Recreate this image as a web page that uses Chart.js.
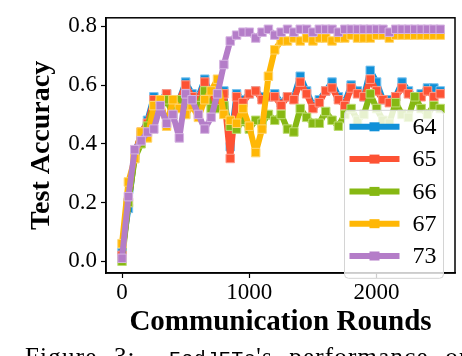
<!DOCTYPE html>
<html>
<head>
<meta charset="utf-8">
<script src="https://cdn.jsdelivr.net/npm/chart.js@4"></script>
<style>
body{margin:0;background:#fff;}
#wrap{position:relative;width:462px;height:356px;overflow:hidden;}
#grafico{position:absolute;left:0;top:0;}
#caption{position:absolute;left:25px;top:343px;font-family:"Liberation Serif",serif;font-size:25px;white-space:nowrap;color:#000;word-spacing:9px;letter-spacing:1.2px;}
#caption tt{font-family:"Liberation Mono",monospace;font-size:20px;letter-spacing:0.5px;}
</style>
</head>
<body>
<div id="wrap">
<canvas id="grafico" width="462" height="356"></canvas>
<div id="caption">Figure 3:&nbsp; <tt>FedJETs</tt>'s performance on</div>
</div>
<script>
// rondas de comunicacion
const rondas = [0,50,100,150,200,250,300,350,400,450,500,550,600,650,700,750,800,850,900,950,
  1000,1050,1100,1150,1200,1250,1300,1350,1400,1450,1500,1550,1600,1650,1700,1750,1800,1850,1900,1950,
  2000,2050,2100,2150,2200,2250,2300,2350,2400,2450,2500];

const acc64 = [0.03,0.18,0.37,0.43,0.48,0.56,0.55,0.57,0.53,0.55,0.61,0.57,0.56,0.62,0.56,0.55,0.58,0.39,0.57,0.55,
  0.57,0.58,0.56,0.56,0.57,0.54,0.56,0.56,0.63,0.58,0.53,0.55,0.58,0.61,0.56,0.54,0.60,0.58,0.56,0.65,
  0.61,0.55,0.55,0.56,0.61,0.58,0.56,0.57,0.59,0.59,0.58];
const acc65 = [0.02,0.20,0.36,0.44,0.47,0.55,0.54,0.57,0.52,0.55,0.60,0.56,0.55,0.61,0.55,0.54,0.57,0.35,0.56,0.54,
  0.57,0.58,0.55,0.56,0.56,0.53,0.56,0.55,0.61,0.57,0.52,0.54,0.58,0.59,0.55,0.53,0.59,0.57,0.56,0.62,
  0.58,0.55,0.54,0.56,0.59,0.57,0.55,0.56,0.58,0.56,0.57];
const acc66 = [0.00,0.20,0.35,0.40,0.46,0.53,0.52,0.55,0.50,0.55,0.50,0.55,0.53,0.58,0.52,0.52,0.53,0.46,0.45,0.48,
  0.45,0.48,0.47,0.50,0.48,0.50,0.45,0.44,0.52,0.49,0.47,0.47,0.51,0.48,0.46,0.50,0.52,0.48,0.50,0.57,
  0.52,0.48,0.47,0.54,0.50,0.49,0.56,0.52,0.50,0.53,0.52];
const acc67 = [0.06,0.27,0.35,0.44,0.42,0.53,0.55,0.46,0.55,0.52,0.50,0.53,0.49,0.55,0.58,0.62,0.50,0.48,0.47,0.52,
  0.46,0.37,0.45,0.63,0.72,0.75,0.75,0.76,0.75,0.76,0.75,0.76,0.76,0.75,0.76,0.76,0.77,0.76,0.76,0.76,
  0.77,0.77,0.76,0.77,0.77,0.77,0.77,0.77,0.77,0.77,0.77];
const acc73 = [0.01,0.22,0.38,0.41,0.44,0.45,0.53,0.47,0.50,0.42,0.57,0.55,0.50,0.45,0.49,0.57,0.67,0.75,0.77,0.78,
  0.78,0.76,0.78,0.79,0.77,0.78,0.79,0.78,0.79,0.79,0.78,0.79,0.79,0.79,0.78,0.79,0.79,0.79,0.79,0.79,
  0.79,0.79,0.78,0.79,0.79,0.79,0.79,0.79,0.79,0.79,0.79];

const nombres = ["64","65","66","67","73"];
const colores = ["#1090d8","#fd5234","#86b813","#ffb705","#b47dc8"];
const bordesPunto = ["#7cc3ee","#fe9a88","#bcdc72","#ffd56e","#d6b5e2"];
const ticksY = [0.0,0.2,0.4,0.6,0.8];
const ticksX = [0,1000,2000];

const series = [acc64,acc65,acc66,acc67,acc73];
const fuente = "'Liberation Serif', serif";

const marco = {
  id:'marco',
  afterDatasetsDraw(chart){
    const a = chart.chartArea, ctx = chart.ctx;
    ctx.save();
    ctx.strokeStyle = '#000';
    ctx.lineWidth = 1.5;
    ctx.strokeRect(a.left, a.top, a.right-a.left, a.bottom-a.top);
    ctx.restore();
  }
};

const leyenda = {
  id:'leyenda',
  afterDatasetsDraw(chart){
    const a = chart.chartArea, ctx = chart.ctx;
    const x0 = a.right-110.5, y0 = a.top+92.5, w = 99, h = 168;
    ctx.save();
    ctx.beginPath();
    ctx.roundRect(x0, y0, w, h, 4);
    ctx.fillStyle = 'rgba(255,255,255,0.8)';
    ctx.fill();
    ctx.strokeStyle = '#d4d4d4';
    ctx.lineWidth = 1;
    ctx.stroke();
    ctx.font = "24px " + fuente;
    ctx.textBaseline = 'middle';
    nombres.forEach((n,k)=>{
      const y = y0 + 16.5 + k*32.3;
      ctx.strokeStyle = colores[k];
      ctx.lineWidth = 6;
      ctx.beginPath();
      ctx.moveTo(x0+5, y);
      ctx.lineTo(x0+55, y);
      ctx.stroke();
      ctx.fillStyle = colores[k];
      ctx.fillRect(x0+25, y-4.5, 10, 9);
      ctx.fillStyle = '#000';
      ctx.fillText(n, x0+68, y+1);
    });
    ctx.restore();
  }
};

const datasets = series.map((s,k)=>({
  label: nombres[k],
  data: rondas.map((r,j)=>({x:r, y:s[j]})),
  borderColor: colores[k],
  backgroundColor: colores[k],
  borderWidth: 6,
  borderJoinStyle: 'bevel',
  pointStyle: 'rect',
  pointRadius: 6,
  pointBorderWidth: 1,
  pointBorderColor: bordesPunto[k],
  pointBackgroundColor: colores[k],
  tension: 0,
  order: series.length - k
}));

new Chart(document.getElementById('grafico').getContext('2d'), {
  type: 'line',
  data: { datasets: datasets },
  options: {
    responsive: false,
    animation: false,
    layout: { padding: { left: 0, right: 7, top: 2, bottom: 0 } },
    plugins: { legend: { display: false }, tooltip: { enabled: false } },
    scales: {
      x: {
        type: 'linear',
        min: -126,
        max: 2616,
        afterBuildTicks: (sc)=>{ sc.ticks = ticksX.map(v=>({value:v})); },
        afterFit: (sc)=>{ sc.height = 83; },
        grid: { drawOnChartArea: false, drawTicks: true, tickLength: 5, tickColor: '#000', tickWidth: 1.2 },
        border: { display: true, color: '#000', width: 1.5 },
        ticks: { color: '#000', font: { family: fuente, size: 23 }, padding: 1, maxRotation: 0,
                 callback: (v)=> String(v) },
        title: { display: true, text: 'Communication Rounds', color: '#000',
                 font: { family: fuente, size: 29, weight: 'bold' }, padding: { top: 0, bottom: 16 } }
      },
      y: {
        min: -0.04,
        max: 0.829,
        afterBuildTicks: (sc)=>{ sc.ticks = ticksY.map(v=>({value:v})); },
        afterFit: (sc)=>{ sc.width = 106; },
        grid: { drawOnChartArea: false, drawTicks: true, tickLength: 5, tickColor: '#000', tickWidth: 1.2 },
        border: { display: true, color: '#000', width: 1.5 },
        ticks: { color: '#000', font: { family: fuente, size: 23 }, padding: 4,
                 callback: (v)=> v.toFixed(1) },
        title: { display: true, text: 'Test Accuracy', color: '#000',
                 font: { family: fuente, size: 28, weight: 'bold' }, padding: { top: 25, bottom: 0 } }
      }
    }
  },
  plugins: [marco, leyenda]
});
</script>
</body>
</html>
